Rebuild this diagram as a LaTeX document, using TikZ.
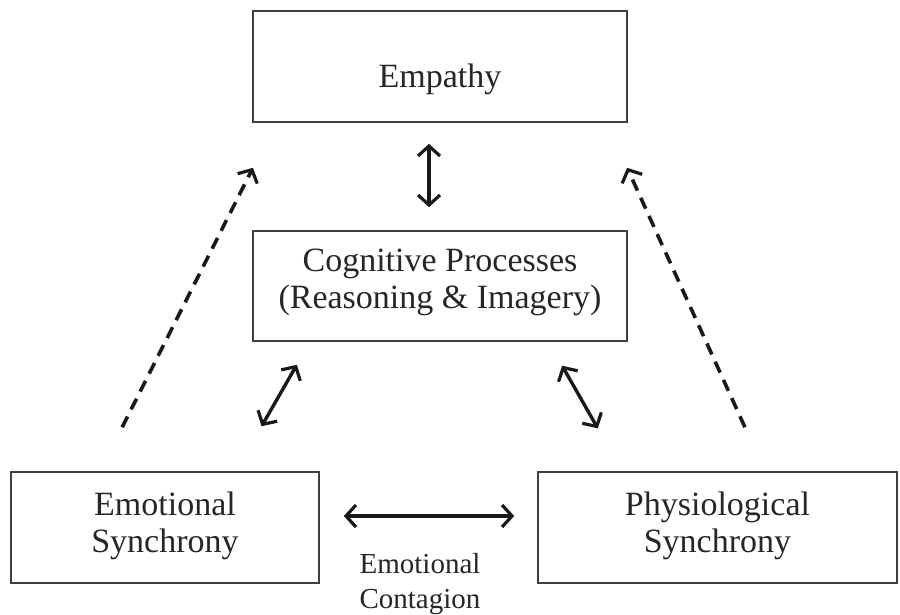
\documentclass[tikz,border=0pt]{standalone}
\usepackage{fontspec}
\setmainfont{Liberation Serif}
\usetikzlibrary{arrows.meta}
\newcommand{\lbltext}[2]{\raisebox{#1}[0pt][0pt]{\begin{tabular}[b]{@{}c@{}}#2\end{tabular}}}
\begin{document}
\begin{tikzpicture}[x=1pt,y=1pt,
  box/.style={draw=black!75,line width=1.6pt,inner sep=0pt,text=black!85,font=\fontsize{34}{37}\selectfont},
  link/.style={line width=3.4pt,draw=black!90,{Straight Barb[length=10pt,width=22pt,line width=3.2pt]}-{Straight Barb[length=10pt,width=22pt,line width=3.2pt]}},
  infl/.style={line width=3.6pt,draw=black!90,dash pattern=on 12pt off 8pt,-{Straight Barb[length=10pt,width=22pt,line width=3.2pt]}}]
\useasboundingbox (0,0) rectangle (900,-614);
% boxes
\node[box,minimum width=374,minimum height=111] (emp) at (440,-66.5) {\lbltext{-20.5pt}{Empathy}};
\node[box,minimum width=374,minimum height=110] (cog) at (440,-286) {\lbltext{-22pt}{Cognitive Processes\\(Reasoning \& Imagery)}};
\node[box,minimum width=308,minimum height=111] (emo) at (165,-527.5) {\lbltext{-24.5pt}{Emotional\\Synchrony}};
\node[box,minimum width=359,minimum height=111] (phy) at (717.5,-527.5) {\lbltext{-24.5pt}{Physiological\\Synchrony}};
\node[align=center,text=black!85,font=\fontsize{29}{35}\selectfont] (cont) at (420,-584) {Emotional\\Contagion};
% solid two-way links
\draw[link,shorten <=21,shorten >=23] ([xshift=-11]emp.south) -- ([xshift=-11]cog.north);
\draw[link,shorten <=26.5,shorten >=51.8] ([xshift=-130]cog.south) -- ([xshift=-84]emo.north east);
\draw[link,shorten <=27.5,shorten >=49.3] ([xshift=108.5]cog.south) -- ([xshift=-95.3]phy.north);
\draw[link,shorten <=24,shorten >=23] ([yshift=11.5]emo.east) -- ([yshift=11.5]phy.west);
% dashed influences
\draw[infl,shorten <=49.2,shorten >=50.4] ([xshift=-65]emo.north) -- ([xshift=-164.4]emp.south);
\draw[infl,shorten <=48.3,shorten >=49.4] ([xshift=47.4]phy.north) -- ([xshift=166.7]emp.south);
\end{tikzpicture}
\end{document}
